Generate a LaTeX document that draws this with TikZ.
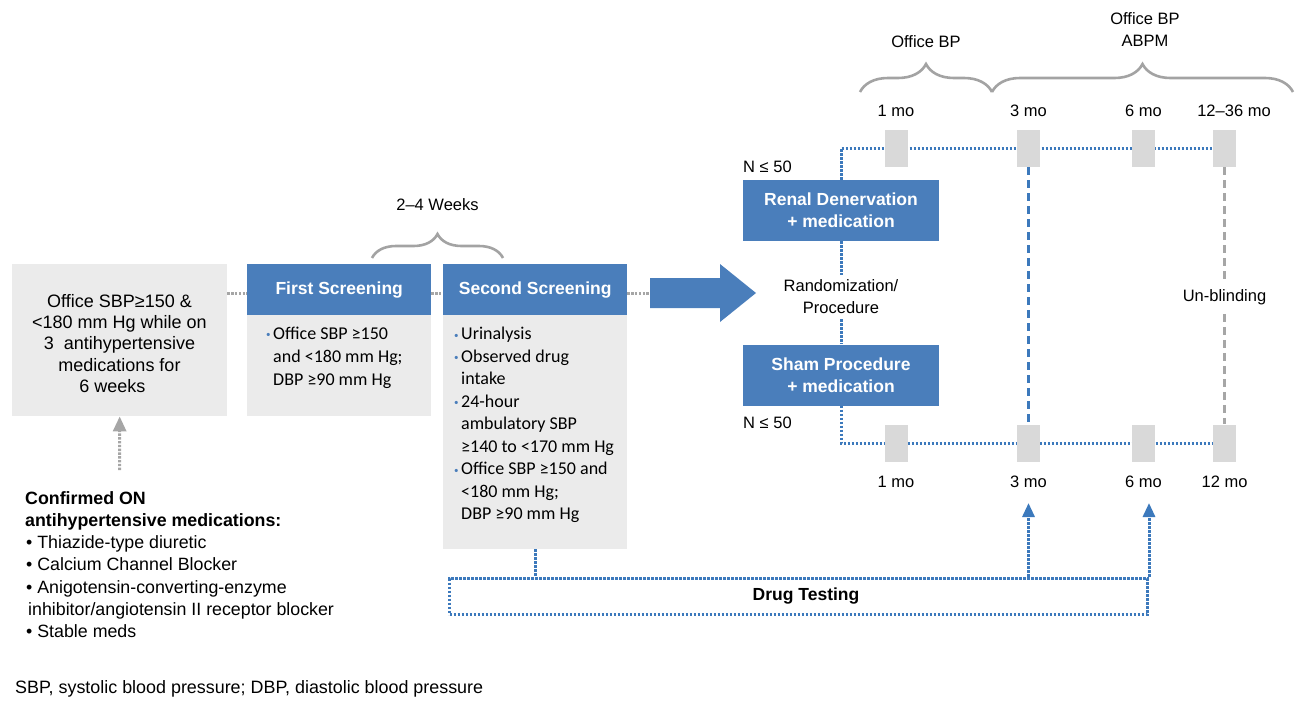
\documentclass[tikz,border=0pt]{standalone}
\usepackage{fontspec}
\setmainfont{Liberation Sans}
\newfontfamily\calfont{Carlito}
\usetikzlibrary{decorations.pathreplacing,arrows.meta,backgrounds}
\definecolor{hdrblue}{HTML}{4A7EBB}
\definecolor{boxgray}{HTML}{EBEBEB}
\definecolor{sqgray}{HTML}{D9D9D9}
\definecolor{dotblue}{HTML}{3C79BC}
\definecolor{dotgray}{HTML}{A6A6A6}
\definecolor{bracegray}{HTML}{A3A3A3}
\newcommand{\bul}{\llap{\textcolor{hdrblue}{\fontsize{9}{9}\selectfont\raisebox{1.5pt}{•}}\hspace{2.5pt}}}
\begin{document}
\begin{tikzpicture}[x=1pt,y=-1pt,
  hdr/.style={fill=hdrblue, text=white, font=\bfseries\fontsize{17.5}{21}\selectfont, minimum width=184pt, minimum height=51pt, inner sep=0pt, anchor=north west},
  bodybox/.style={fill=boxgray, inner sep=0pt, anchor=north west},
  btxt/.style={anchor=north west, align=left, inner sep=0pt, font=\calfont\fontsize{18}{22.5}\selectfont},
  bluebox/.style={fill=hdrblue, text=white, font=\bfseries\fontsize{17.5}{22}\selectfont, align=center, minimum width=196pt, minimum height=61pt, inner sep=0pt},
  sq/.style={fill=sqgray, minimum width=23pt, minimum height=37pt, inner sep=0pt},
  lbl/.style={font=\fontsize{16.5}{22}\selectfont, inner sep=0pt},
  bdot/.style={draw=dotblue, line width=3pt, dash pattern=on 2.6pt off 1.4pt},
  gdot/.style={draw=dotgray, line width=3pt, dash pattern=on 2.4pt off 1.4pt},
  bdash/.style={draw=dotblue, line width=3pt, dash pattern=on 8pt off 5pt},
  gdash/.style={draw=dotgray, line width=3pt, dash pattern=on 8pt off 5pt},
  brc/.style={draw=bracegray, line width=2.6pt, decorate, decoration={brace, amplitude=#1}}
]
\useasboundingbox (0,0) rectangle (1297,701);

% left box
\node[bodybox, minimum width=215pt, minimum height=152pt] (lb) at (12,264) {};
\node[anchor=north, align=center, inner sep=0pt, font=\fontsize{18}{21.3}\selectfont] (lbt) at (119.5,292) {\strut Office SBP≥150 \&\\<180 mm Hg while on\\3\ \ antihypertensive\\medications for\\6 weeks\hspace*{14pt}};

% first screening
\node[hdr] (fs) at (247,264) {First Screening};
\node[bodybox, minimum width=184pt, minimum height=101pt] (fsb) at (247,315) {};
\node[btxt, font=\calfont\fontsize{18}{23.3}\selectfont] (fst) at (273,322.5) {\strut\bul Office SBP ≥150\\and <180 mm Hg;\\DBP ≥90 mm Hg};

% second screening
\node[hdr] (ss) at (443,264) {Second Screening};
\node[bodybox, minimum width=184pt, minimum height=234pt] (ssb) at (443,315) {};
\node[btxt] (sst) at (461,324) {\strut\bul Urinalysis\\\bul Observed drug\\intake\\\bul 24-hour\\ambulatory SBP\\≥140 to <170 mm Hg\\\bul Office SBP ≥150 and\\<180 mm Hg;\\DBP ≥90 mm Hg};

% big arrow
\fill[hdrblue] (650,278) -- (720,278) -- (720,264) -- (756,293) -- (720,322) -- (720,308) -- (650,308) -- cycle;
\coordinate (arrtail) at (650,293);
\coordinate (lvl) at (0,293);

% arms
\node[bluebox] (rd) at (841,210.5) {Renal Denervation\\+ medication};
\node[bluebox] (sp) at (841,375) {Sham Procedure\\+ medication};
\node[lbl, anchor=west] (n1) at (743,167) {N ≤ 50};
\node[lbl, anchor=west] (n2) at (743,423) {N ≤ 50};
\node[lbl, align=center, inner sep=5pt] (rand) at (841,297) {Randomization/\\Procedure};

% time points
\node[sq] (t1) at (896,148.5) {};
\node[sq] (t3) at (1028.5,148.5) {};
\node[sq] (t6) at (1143.5,148.5) {};
\node[sq] (t12) at (1224.5,148.5) {};
\node[sq] (b1) at (896,443) {};
\node[sq] (b3) at (1028.5,443) {};
\node[sq] (b6) at (1143.5,443) {};
\node[sq] (b12) at (1224.5,443) {};
\node[lbl] (lt1) at (896,111) {1 mo};
\node[lbl] (lt3) at (1028.5,111) {3 mo};
\node[lbl] (lt6) at (1143.5,111) {6 mo};
\node[lbl] (lt12) at (1234,111) {12–36 mo};
\node[lbl] (lb1) at (896,482) {1 mo};
\node[lbl] (lb3) at (1028.5,482) {3 mo};
\node[lbl] (lb6) at (1143.5,482) {6 mo};
\node[lbl] (lb12) at (1224.5,482) {12 mo};
\node[lbl, inner sep=9pt] (unb) at (1224.5,297) {Un-blinding};

% braces
\draw[brc=24pt] (372,258) -- (503,258);
\node[lbl] (w24) at (437.5,205) {2–4 Weeks};
\draw[brc=28pt] (860,92) -- (992,92);
\draw[brc=28pt] (992,92) -- (1293,92);
\node[lbl] (obp1) at (926,42) {Office BP};
\node[lbl, align=center] (obp2) at (1145,30) {Office BP\\ABPM};

% drug testing
\node[bdot, minimum width=698pt, minimum height=36pt, inner sep=0pt, anchor=north west] (dt) at (448,577) {};
\node[font=\bfseries\fontsize{17.5}{20}\selectfont, inner sep=0pt] (dtl) at (806,596) {Drug Testing};

% confirmed list
\node[anchor=north west, align=left, inner sep=0pt, font=\fontsize{17.8}{22.2}\selectfont] (conf) at (25,488.5) {\strut\textbf{Confirmed ON}\\\textbf{antihypertensive medications:}\\\hspace*{1pt}• Thiazide-type diuretic\\\hspace*{1pt}• Calcium Channel Blocker\\\hspace*{1pt}• Anigotensin-converting-enzyme\\\hspace*{3pt}inhibitor/angiotensin II receptor blocker\\\hspace*{1pt}• Stable meds};
\coordinate (garr) at (119.5,470);

% footnote
\node[anchor=base west, inner sep=0pt, font=\fontsize{17.9}{20}\selectfont] (foot) at (15,693) {SBP, systolic blood pressure; DBP, diastolic blood pressure};

\begin{scope}[on background layer]
\draw[gdot] (lb.east |- lvl) -- (fs.west |- lvl);
\draw[gdot] (fs.east |- lvl) -- (ss.west |- lvl);
\draw[gdot] (ss.east |- lvl) -- (arrtail);
\draw[gdot, -{Triangle[length=15pt,width=13pt]}] (garr) -- (lb.south);
\draw[bdot] (rd.north) |- (t12.west);
\draw[bdot] (sp.south) |- (b12.west);
\draw[bdot] (rd.south) -- (rand.north);
\draw[bdot] (rand.south) -- (sp.north);
\draw[bdash] (t3.south) -- (b3.north);
\draw[gdash] (t12.south) -- (unb.north);
\draw[gdash] (unb.south) -- (b12.north);
\draw[bdot] (ssb.south) -- (ssb.south |- dt.north);
\draw[bdot, -{Triangle[length=14pt,width=12pt]}] (dt.north -| b3) -- ++(0,-74);
\draw[bdot, -{Triangle[length=14pt,width=12pt]}] (dt.north east) -- ++(0,-74);
\end{scope}
\end{tikzpicture}
\end{document}
